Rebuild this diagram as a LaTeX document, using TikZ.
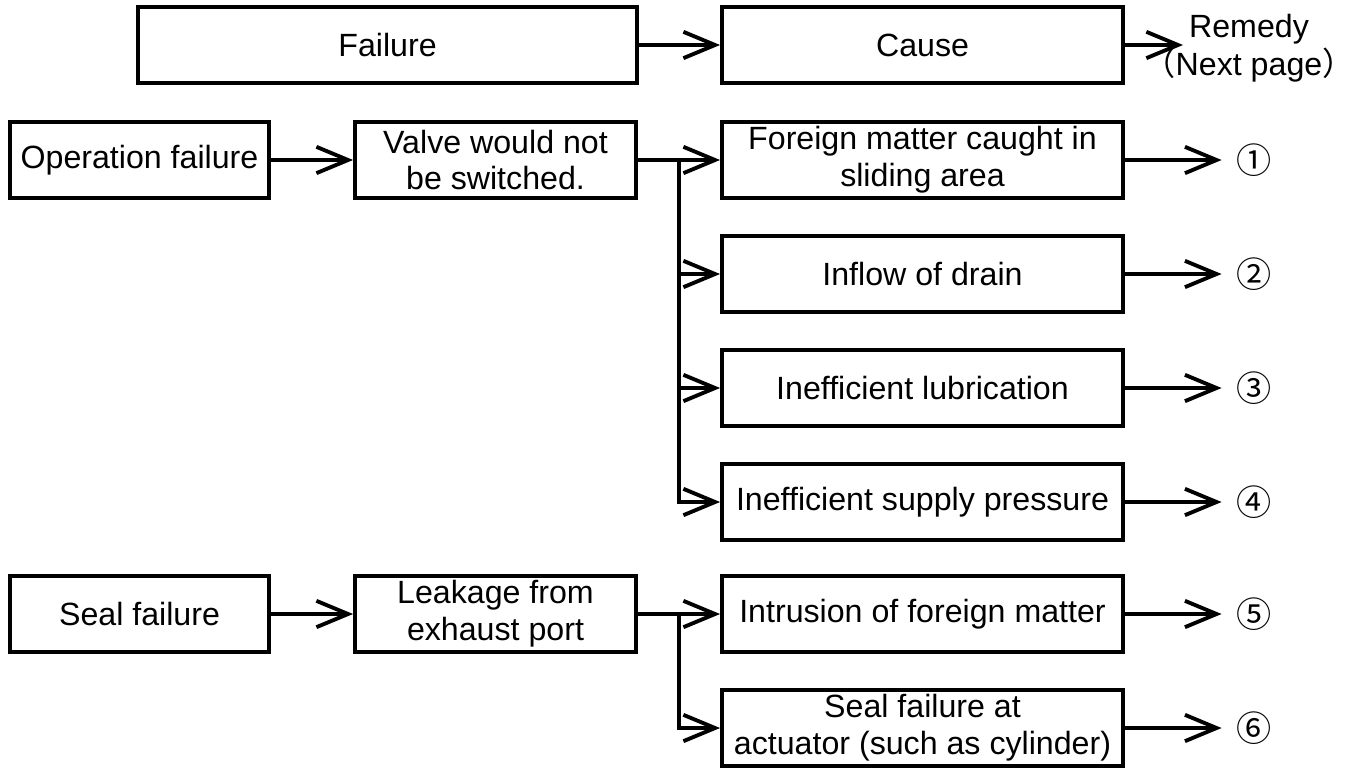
\documentclass[tikz,border=0pt]{standalone}
\usepackage{fontspec}
\setmainfont{Liberation Sans}
\newfontfamily\cjk{Noto Sans CJK JP}
\usetikzlibrary{arrows.meta,positioning}

\begin{document}
\begin{tikzpicture}[
  box/.style={draw,line width=2.2pt,inner sep=0pt,minimum height=1.52cm,align=center,font=\fontsize{18.3}{21}\selectfont},
  arr/.style={line width=2.2pt,-{Straight Barb[length=18pt,width=15pt]}},
  num/.style={inner ysep=0pt,inner xsep=0.29cm,font=\cjk\fontsize{20}{21}\selectfont}
]
\useasboundingbox (0,0) rectangle (27.08,-15.38);

%header
\node[box,minimum width=9.98cm] (fail) at (7.75,-0.9) {Failure};
\node[box,minimum width=8.02cm] (cause) at (18.45,-0.9) {Cause};
\node[align=center,inner sep=0pt,font=\fontsize{18.3}{21.6}\selectfont] (remedy) at (24.98,-0.96) {Remedy\\{\cjk （}Next page{\cjk ）}};
\coordinate (rem) at (23.66,-0.9);

%operation failure
\node[box,minimum width=5.18cm] (opf) at (2.79,-3.2) {Operation failure};
\node[box,minimum width=5.62cm] (valve) at (9.91,-3.2) {Valve would not\\be switched.};
\node[box,minimum width=8.02cm] (c1) at (18.45,-3.2) {Foreign matter caught in\\sliding area};
\node[box,minimum width=8.02cm] (c2) at (18.45,-5.48) {Inflow of drain};
\node[box,minimum width=8.02cm] (c3) at (18.45,-7.76) {Inefficient lubrication};
\node[box,minimum width=8.02cm] (c4) at (18.45,-10.04) {Inefficient supply pressure};
\coordinate (b1) at (13.58,-3.2);

%seal failure
\node[box,minimum width=5.18cm] (seal) at (2.79,-12.28) {Seal failure};
\node[box,minimum width=5.62cm] (leak) at (9.91,-12.28) {Leakage from\\exhaust port};
\node[box,minimum width=8.02cm] (c5) at (18.45,-12.28) {Intrusion of foreign matter};
\node[box,minimum width=8.02cm] (c6) at (18.45,-14.56) {Seal failure at\\actuator (such as cylinder)};
\coordinate (b2) at (13.58,-12.28);

%remedy numbers
\foreach \i/\s in {1/①,2/②,3/③,4/④,5/⑤,6/⑥}
  \node[num] (n\i) at (25.08,0 |- c\i) {\s};

%arrows
\draw[arr] (fail) -- (cause);
\draw[arr] (cause) -- (rem);
\draw[arr] (opf) -- (valve);
\draw[arr] (valve) -- (c1);
\foreach \c in {c2,c3,c4}
  \draw[arr] (b1) |- (\c);
\draw[arr] (seal) -- (leak);
\draw[arr] (leak) -- (c5);
\draw[arr] (b2) |- (c6);
\foreach \i in {1,...,6}
  \draw[arr] (c\i) -- (n\i);
\end{tikzpicture}
\end{document}
